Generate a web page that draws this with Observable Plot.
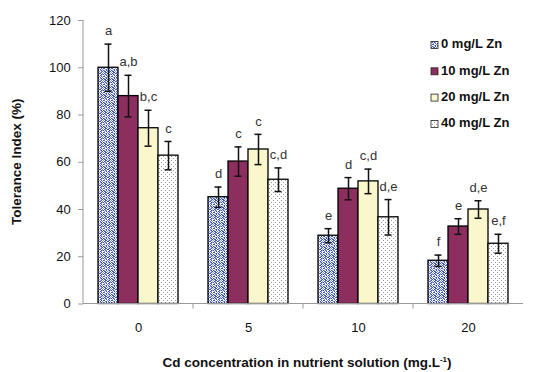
<!DOCTYPE html>
<html><head><meta charset="utf-8">
<script src="https://cdn.jsdelivr.net/npm/d3@7"></script>
<script src="https://cdn.jsdelivr.net/npm/@observablehq/plot@0.6"></script>
<style>
body{margin:0;background:#fff;}
#chart{position:relative;width:536px;height:372px;overflow:hidden;}
</style>
</head><body><div id="chart"></div>
<script>
// ---- data ----
const cdLevels = ["0", "5", "10", "20"];
const znLevels = ["0 mg/L Zn", "10 mg/L Zn", "20 mg/L Zn", "40 mg/L Zn"];
const means = [
  [100, 88, 74.4, 62.8],
  [45.2, 60.3, 65.4, 52.6],
  [28.9, 48.8, 51.9, 36.7],
  [18.3, 32.8, 40, 25.5]
];
const errors = [
  [10, 8.8, 7.6, 6],
  [4.3, 6.2, 6.4, 5],
  [3, 4.7, 5.2, 7.5],
  [2.4, 3.3, 3.7, 4]
];
const letters = [
  ["a", "a,b", "b,c", "c"],
  ["d", "c", "c", "c,d"],
  ["e", "d", "c,d", "d,e"],
  ["f", "e", "d,e", "e,f"]
];
const yTicks = [0, 20, 40, 60, 80, 100, 120];
const yLabel = "Tolerance Index (%)";
const xLabel = "Cd concentration in nutrient solution (mg.L";
const xLabelSup = "-1";

const rows = [];
cdLevels.forEach((cd, i) => znLevels.forEach((zn, j) => rows.push({
  cd, zn, mean: means[i][j], err: errors[i][j], letter: letters[i][j]
})));

const fills = ["url(#pZn0)", "#8C2F5E", "#FAF7CC", "url(#pZn40)"];

const W = 536, H = 372, mL = 83, mR = 13, mT = 20, mB = 68.5;
const pInner = 0.27, pOuter = 0.135;
const step = (W - mL - mR) / (cdLevels.length - pInner + 2 * pOuter);
const outerPad = pOuter * step;
const font = "'Liberation Sans', Arial, sans-serif";

const plot = Plot.plot({
  width: W, height: H,
  marginLeft: mL, marginRight: mR, marginTop: mT, marginBottom: mB,
  style: {fontFamily: font, fontSize: "13px", background: "#fff", color: "#000", overflow: "visible"},
  fx: {domain: cdLevels, paddingInner: pInner, paddingOuter: pOuter, label: null},
  x: {domain: znLevels, padding: 0, axis: null},
  y: {domain: [0, 120]},
  color: {domain: znLevels, range: fills},
  marks: [
    Plot.axisFx({anchor: "bottom", tickSize: 0, tickPadding: 19, label: null, fontSize: 13, fill: "#111"}),
    Plot.axisY({ticks: yTicks, tickSize: 5, tickPadding: 8, label: null, stroke: "#999", fill: "#111", dx: -outerPad, fontSize: 13}),
    Plot.barY(rows, {fx: "cd", x: "zn", y: "mean", fill: "zn", stroke: "#000", strokeWidth: 1.3}),
    Plot.ruleX(rows, {fx: "cd", x: "zn", y1: d => d.mean - d.err, y2: d => d.mean + d.err, stroke: "#111", strokeWidth: 1.5}),
    Plot.tickY(rows, {fx: "cd", x: "zn", y: d => d.mean - d.err, insetLeft: 6.5, insetRight: 6.5, stroke: "#111", strokeWidth: 1.5}),
    Plot.tickY(rows, {fx: "cd", x: "zn", y: d => d.mean + d.err, insetLeft: 6.5, insetRight: 6.5, stroke: "#111", strokeWidth: 1.5}),
    Plot.text(rows, {fx: "cd", x: "zn", y: d => d.mean + d.err, text: "letter", dy: -13, fill: "#333", fontSize: 13})
  ]
});

document.getElementById("chart").appendChild(plot);

// ---- patterns ----
const svg = d3.select(plot);
const defs = svg.insert("defs", ":first-child");
const tile0 = [
  "20110210",
  "01201102",
  "10120012",
  "02010120",
  "11002010",
  "00210102",
  "12010210",
  "01102021"
];
const p0 = defs.append("pattern").attr("id", "pZn0").attr("patternUnits", "userSpaceOnUse")
  .attr("width", 8).attr("height", 8);
p0.append("rect").attr("width", 8).attr("height", 8).attr("fill", "#ffffff");
tile0.forEach((row, y) => [...row].forEach((c, x) => {
  if (c !== "0") p0.append("rect").attr("x", x).attr("y", y).attr("width", 1).attr("height", 1)
    .attr("fill", c === "1" ? "#3a55b4" : "#8fa0dc");
}));
const p3 = defs.append("pattern").attr("id", "pZn40").attr("patternUnits", "userSpaceOnUse")
  .attr("width", 4).attr("height", 4);
p3.append("rect").attr("width", 4).attr("height", 4).attr("fill", "#ffffff");
p3.append("rect").attr("x", 0).attr("y", 0).attr("width", 1).attr("height", 1).attr("fill", "#9a9a9a");
p3.append("rect").attr("x", 2).attr("y", 2).attr("width", 1).attr("height", 1).attr("fill", "#9a9a9a");

// ---- axis lines (Excel style) ----
const fxs = plot.scale("fx"), ys = plot.scale("y"), col = plot.scale("color");
const x0 = fxs.range[0], x1 = fxs.range[1], y0 = ys.apply(0), yTop = ys.apply(120);
const g = svg.append("g").attr("stroke", "#999").attr("stroke-width", 1).attr("fill", "none");
g.append("line").attr("x1", x0).attr("x2", x0).attr("y1", y0).attr("y2", yTop);
g.append("line").attr("x1", x0).attr("x2", x1).attr("y1", y0).attr("y2", y0);
for (let i = 1; i < cdLevels.length; i++) {
  const b = (fxs.apply(cdLevels[i - 1]) + fxs.bandwidth + fxs.apply(cdLevels[i])) / 2;
  g.append("line").attr("x1", b).attr("x2", b).attr("y1", y0).attr("y2", y0 + 5);
}

// ---- titles ----
svg.append("text").attr("transform", `translate(17,${(y0 + yTop) / 2}) rotate(-90)`)
  .attr("text-anchor", "middle").attr("dominant-baseline", "middle")
  .attr("font-family", font).attr("font-size", 13.5).attr("font-weight", "bold").attr("fill", "#111")
  .text(yLabel);
const xt = svg.append("text").attr("x", 307).attr("y", 367)
  .attr("text-anchor", "middle").attr("font-family", font).attr("font-size", 13.5)
  .attr("font-weight", "bold").attr("fill", "#111");
xt.append("tspan").text(xLabel);
xt.append("tspan").attr("dy", -5).attr("font-size", 8).text(xLabelSup);
xt.append("tspan").attr("dy", 5).text(")");

// ---- legend ----
const lg = svg.append("g").attr("font-family", font).attr("font-size", 13).attr("font-weight", "bold")
  .attr("text-anchor", "start");
znLevels.forEach((zn, i) => {
  const y = 45 + i * 26.3;
  lg.append("rect").attr("x", 431).attr("y", y - 3.5).attr("width", 7).attr("height", 7)
    .attr("fill", col.apply(zn)).attr("stroke", "#222").attr("stroke-width", 0.8);
  lg.append("text").attr("x", 441).attr("y", y).attr("dominant-baseline", "middle")
    .attr("fill", "#111").text(zn);
});
</script>
</body></html>
